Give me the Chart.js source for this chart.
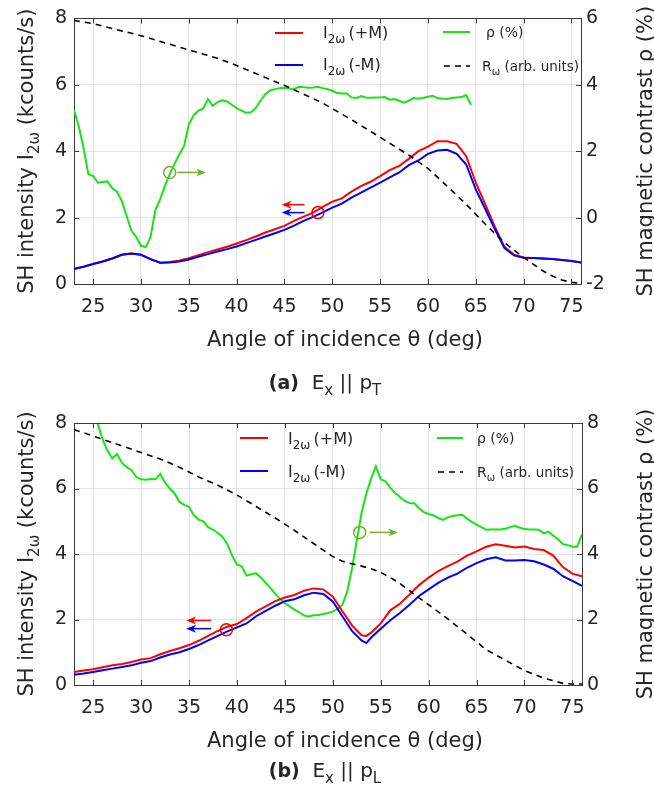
<!DOCTYPE html>
<html>
<head>
<meta charset="utf-8">
<script src="https://cdn.jsdelivr.net/npm/chart.js@4.4.1/dist/chart.umd.min.js"></script>
<style>
  body { margin: 0; background: #fff; width: 654px; height: 802px; overflow: hidden; }
  canvas { display: block; }
</style>
</head>
<body>
<canvas id="chartA" width="654" height="400"></canvas>
<canvas id="chartB" width="654" height="402"></canvas>
<script>
// ---- ticks ----
const xTicks = [25, 30, 35, 40, 45, 50, 55, 60, 65, 70, 75];
const leftTicks = [0, 2, 4, 6, 8];
const rightTicksA = [-2, 0, 2, 4, 6];
const rightTicksB = [0, 2, 4, 6, 8];

// ---- panel (a): Ex || pT ----
const angleA = [23,24,25,26,27,28,29,30,31,32,33,34,35,36,37,38,39,40,41,42,43,44,45,46,47,48,49,50,51,52,53,54,55,56,57,58,59,60,61,62,63,64,65,66,67,68,69,70,71,72,73,74,75,76];
const plusA  = [0.45,0.52,0.60,0.68,0.77,0.88,0.92,0.88,0.75,0.64,0.66,0.70,0.78,0.87,0.96,1.04,1.12,1.22,1.32,1.43,1.55,1.65,1.75,1.90,2.03,2.15,2.32,2.48,2.58,2.78,2.95,3.08,3.25,3.43,3.56,3.77,4.00,4.14,4.30,4.30,4.22,3.85,3.05,2.40,1.72,1.12,0.88,0.80,0.78,0.77,0.75,0.72,0.69,0.65];
const minusA = [0.45,0.52,0.60,0.68,0.77,0.88,0.92,0.88,0.75,0.64,0.65,0.68,0.74,0.82,0.90,0.98,1.05,1.13,1.23,1.33,1.43,1.53,1.63,1.76,1.90,2.02,2.16,2.30,2.42,2.60,2.75,2.90,3.05,3.21,3.36,3.58,3.72,3.92,4.02,4.04,3.92,3.60,2.85,2.25,1.65,1.08,0.86,0.79,0.78,0.77,0.75,0.72,0.69,0.65];
const rhoAngleA = [23,23.5,24,24.5,25,25.5,26,26.5,27,27.5,28,28.5,29,29.5,30,30.5,31,31.5,32,32.5,33,33.5,34,34.5,35,35.5,36,36.5,37,37.5,38,38.5,39,39.5,40,40.5,41,41.5,42,42.5,43,43.5,44,44.5,45,45.5,46,46.5,47,47.5,48,48.5,49,49.5,50,50.5,51,51.5,52,52.5,53,53.5,54,54.5,55,55.5,56,56.5,57,57.5,58,58.5,59,59.5,60,60.5,61,61.5,62,62.5,63,63.5,64,64.5];
const rhoA = [3.24,2.75,2.10,1.31,1.25,1.05,1.07,1.09,0.88,0.78,0.50,0.05,-0.40,-0.58,-0.85,-0.89,-0.58,0.22,0.55,0.95,1.30,1.61,1.90,2.15,2.80,3.08,3.22,3.28,3.57,3.37,3.48,3.53,3.50,3.40,3.30,3.22,3.16,3.17,3.30,3.52,3.72,3.83,3.87,3.90,3.91,3.89,3.87,3.94,3.93,3.91,3.92,3.94,3.90,3.87,3.82,3.75,3.74,3.74,3.62,3.60,3.66,3.62,3.61,3.62,3.62,3.63,3.55,3.57,3.52,3.46,3.52,3.60,3.58,3.60,3.64,3.67,3.60,3.58,3.57,3.60,3.62,3.63,3.69,3.39];
const reflAngleA = [23,25,30,35,38,40,42,44,45,47,49,52,55,58,60,62,64,65,66,67,68,69,70,71,72,73,74,75,76];
const reflA = [7.94,7.84,7.48,7.05,6.80,6.58,6.34,6.10,5.98,5.72,5.45,4.95,4.42,3.88,3.48,2.95,2.40,2.10,1.80,1.52,1.25,1.02,0.80,0.60,0.40,0.24,0.12,0.05,0.02];
// markers: [angle, value] and arrows: [from angle, to angle, value]
const ringIA = [48.5, 2.15];
const ringRhoA = [33.0, 1.36];
const arrowPlusA = [47.1, 44.7, 2.39];
const arrowMinusA = [47.1, 44.7, 2.15];
const arrowRhoA = [33.8, 36.8, 1.36];

// ---- panel (b): Ex || pL ----
const angleB = [23,24,25,26,27,28,29,30,31,32,33,34,35,36,37,38,39,40,41,42,43,44,45,46,47,48,49,50,51,52,53,53.5,54,55,56,57,58,59,60,61,62,63,64,65,66,67,68,69,70,71,72,73,74,75,76];
const plusB  = [0.40,0.44,0.48,0.54,0.60,0.64,0.70,0.78,0.82,0.94,1.04,1.12,1.22,1.35,1.50,1.65,1.78,1.86,2.04,2.24,2.40,2.56,2.67,2.75,2.88,2.95,2.92,2.70,2.25,1.82,1.52,1.50,1.60,1.88,2.28,2.48,2.76,3.05,3.28,3.48,3.63,3.77,3.95,4.08,4.22,4.30,4.25,4.20,4.23,4.15,4.12,3.95,3.60,3.40,3.32];
const minusB = [0.31,0.35,0.40,0.45,0.50,0.55,0.60,0.68,0.73,0.84,0.93,1.00,1.10,1.22,1.36,1.50,1.64,1.76,1.88,2.10,2.26,2.42,2.56,2.62,2.74,2.82,2.78,2.55,2.10,1.65,1.36,1.28,1.45,1.72,1.98,2.20,2.45,2.72,2.92,3.12,3.28,3.40,3.58,3.72,3.84,3.90,3.80,3.80,3.82,3.78,3.68,3.55,3.32,3.18,3.03];
const rhoAngleB = [23,23.5,24,24.5,25,25.5,26,26.5,27,27.5,28,28.5,29,29.5,30,30.5,31,31.5,32,32.5,33,33.5,34,34.5,35,35.5,36,36.5,37,37.5,38,38.5,39,39.5,40,40.5,41,41.5,42,42.5,43,43.5,44,44.5,45,45.5,46,46.5,47,47.5,48,48.5,49,49.5,50,50.5,51,51.5,52,52.5,53,53.5,54,54.5,55,55.5,56,56.5,57,57.5,58,58.5,59,59.5,60,60.5,61,61.5,62,62.5,63,63.5,64,64.5,65,65.5,66,66.5,67,67.5,68,68.5,69,69.5,70,70.5,71,71.5,72,72.5,73,73.5,74,74.5,75,75.5,76];
const rhoB = [10.5,10.0,9.4,8.9,8.4,7.95,7.49,7.15,6.92,7.05,6.78,6.65,6.56,6.35,6.28,6.27,6.29,6.28,6.45,6.18,6.00,5.85,5.59,5.50,5.44,5.18,5.05,5.00,4.82,4.74,4.64,4.52,4.30,3.95,3.68,3.62,3.34,3.38,3.41,3.28,3.12,2.96,2.78,2.63,2.50,2.40,2.30,2.22,2.12,2.09,2.13,2.14,2.17,2.20,2.24,2.32,2.45,2.85,3.55,4.40,5.25,5.85,6.30,6.68,6.28,6.22,6.02,5.86,5.74,5.62,5.56,5.55,5.40,5.28,5.22,5.18,5.10,5.04,5.12,5.16,5.18,5.20,5.08,4.98,4.90,4.82,4.74,4.75,4.75,4.75,4.77,4.82,4.86,4.80,4.76,4.75,4.75,4.74,4.63,4.68,4.56,4.45,4.30,4.27,4.22,4.22,4.60];
const reflAngleB = [23,25,28,30,32,34,36,38,40,42,44,46,48,50,51,52,53,54,55,56,57,58,59,60,62,64,66,68,70,72,74,75,76];
const reflB = [7.80,7.60,7.30,7.10,6.90,6.65,6.35,6.10,5.80,5.45,5.10,4.72,4.32,3.92,3.78,3.70,3.63,3.55,3.44,3.28,3.10,2.88,2.66,2.45,2.02,1.55,1.08,0.76,0.44,0.21,0.05,0.03,0.03];
const ringIB = [38.9, 1.69];
const ringRhoB = [52.8, 4.66];
const arrowPlusB = [37.3, 34.7, 1.97];
const arrowMinusB = [37.3, 34.7, 1.72];
const arrowRhoB = [53.85, 56.8, 4.66];

// ---- style ----
const RED = '#ff0000', BLUE = '#0000ff', GREEN = '#14e614', OLIVE = '#77ac30';
const GRID = '#e3e3e3', AXIS = '#3a3a3a', TEXT = '#262626';
const FAMILY = '"DejaVu Sans", sans-serif';

Chart.defaults.font.family = FAMILY;
Chart.defaults.color = TEXT;

function pts(xs, ys) {
  return xs.map((x, i) => ({ x: x, y: ys[i] }));
}

function series(data, color, axis, dash, width) {
  return {
    data: data, borderColor: color, backgroundColor: color,
    borderWidth: width || 2, borderDash: dash || [],
    pointRadius: 0, tension: 0, fill: false, yAxisID: axis
  };
}

function fnt(p) {
  return (p.b ? 'bold ' : '') + p.s + 'px ' + FAMILY;
}

function partsWidth(ctx, parts) {
  let w = 0;
  parts.forEach(p => { ctx.font = fnt(p); w += ctx.measureText(p.t).width; });
  return w;
}

function drawParts(ctx, parts, x, y) {
  parts.forEach(p => {
    ctx.font = fnt(p);
    ctx.fillText(p.t, x, y + (p.dy || 0));
    x += ctx.measureText(p.t).width;
  });
}

function drawArrow(ctx, x0, y0, x1, y1, color) {
  const dx = x1 - x0, dy = y1 - y0, len = Math.hypot(dx, dy);
  const ux = dx / len, uy = dy / len, hl = 10, hw = 4;
  ctx.strokeStyle = color;
  ctx.fillStyle = color;
  ctx.lineWidth = 1.5;
  ctx.beginPath();
  ctx.moveTo(x0, y0);
  ctx.lineTo(x1 - ux * 6, y1 - uy * 6);
  ctx.stroke();
  ctx.beginPath();
  ctx.moveTo(x1, y1);
  ctx.lineTo(x1 - ux * hl - uy * hw, y1 - uy * hl + ux * hw);
  ctx.lineTo(x1 - ux * hl * 0.7, y1 - uy * hl * 0.7);
  ctx.lineTo(x1 - ux * hl + uy * hw, y1 - uy * hl - ux * hw);
  ctx.closePath();
  ctx.fill();
}

// titles, legend, box, inward ticks, markers
const decor = {
  id: 'decor',
  afterDatasetsDraw(chart, args, o) {
    const ctx = chart.ctx, xs = chart.scales.x;
    ctx.save();
    o.rings.forEach(r => {
      const ys = chart.scales[r.axis];
      ctx.beginPath();
      ctx.arc(xs.getPixelForValue(r.at[0]), ys.getPixelForValue(r.at[1]), 6, 0, 2 * Math.PI);
      ctx.strokeStyle = r.color;
      ctx.lineWidth = 1.5;
      ctx.stroke();
    });
    o.arrows.forEach(a => {
      const ys = chart.scales[a.axis];
      const y = ys.getPixelForValue(a.v[2]);
      drawArrow(ctx, xs.getPixelForValue(a.v[0]), y, xs.getPixelForValue(a.v[1]), y, a.color);
    });
    ctx.restore();
  },
  afterDraw(chart, args, o) {
    const ctx = chart.ctx, a = chart.chartArea;
    const xs = chart.scales.x, yl = chart.scales.y;
    ctx.save();
    // box top + inward ticks
    ctx.strokeStyle = AXIS;
    ctx.lineWidth = 1;
    ctx.beginPath();
    const top = Math.round(a.top) + 0.5;
    ctx.moveTo(a.left, top);
    ctx.lineTo(a.right, top);
    xTicks.forEach(v => {
      const px = Math.round(xs.getPixelForValue(v)) + 0.5;
      ctx.moveTo(px, a.bottom); ctx.lineTo(px, a.bottom - 5);
      ctx.moveTo(px, a.top); ctx.lineTo(px, a.top + 5);
    });
    leftTicks.forEach(v => {
      const py = Math.round(yl.getPixelForValue(v)) + 0.5;
      ctx.moveTo(a.left, py); ctx.lineTo(a.left + 5, py);
      ctx.moveTo(a.right, py); ctx.lineTo(a.right - 5, py);
    });
    ctx.stroke();

    // legend
    o.legend.forEach(l => {
      ctx.beginPath();
      ctx.setLineDash(l.dash || []);
      ctx.strokeStyle = l.color;
      ctx.lineWidth = l.w || 2;
      ctx.moveTo(l.x0, l.y);
      ctx.lineTo(l.x1, l.y);
      ctx.stroke();
      ctx.setLineDash([]);
      ctx.fillStyle = TEXT;
      ctx.textBaseline = 'alphabetic';
      ctx.textAlign = 'left';
      drawParts(ctx, l.parts, l.tx, l.y + l.dy);
    });

    // axis titles
    ctx.fillStyle = TEXT;
    ctx.textAlign = 'left';
    ctx.textBaseline = 'alphabetic';
    const mid = (a.top + a.bottom) / 2;
    [[o.leftTitle, o.leftX], [o.rightTitle, o.rightX]].forEach(t => {
      const w = partsWidth(ctx, t[0]);
      ctx.save();
      ctx.translate(t[1], mid);
      ctx.rotate(-Math.PI / 2);
      drawParts(ctx, t[0], -w / 2, 0);
      ctx.restore();
    });
    const wx = partsWidth(ctx, o.xTitle);
    drawParts(ctx, o.xTitle, o.xTitleX - wx / 2, o.xTitleY);
    const wc = partsWidth(ctx, o.caption);
    drawParts(ctx, o.caption, o.captionX - wc / 2, o.captionY);
    ctx.restore();
  }
};

const leftTitle = [{ t: 'SH intensity I', s: 21 }, { t: '2ω', s: 15, dy: 6 }, { t: ' (kcounts/s)', s: 21 }];
const rightTitle = [{ t: 'SH magnetic contrast ρ (%)', s: 21 }];
const xTitle = [{ t: 'Angle of incidence θ (deg)', s: 21 }];
const plusLabel = [{ t: 'I', s: 16 }, { t: '2ω', s: 12, dy: 5 }, { t: '\u2009(+M)', s: 16 }];
const minusLabel = [{ t: 'I', s: 16 }, { t: '2ω', s: 12, dy: 5 }, { t: '\u2009(-M)', s: 16 }];
const rhoLabel = [{ t: 'ρ (%)', s: 14 }];
const reflLabel = [{ t: 'R', s: 14 }, { t: 'ω', s: 10, dy: 4 }, { t: ' (arb. units)', s: 13.5 }];

function makeChart(id, d) {
  const tickFont = { size: 19, family: FAMILY };
  new Chart(document.getElementById(id), {
    type: 'line',
    data: {
      datasets: [
        series(pts(d.reflAngle, d.refl), '#000000', 'y', [6, 5], 1.6),
        series(pts(d.angle, d.minus), BLUE, 'y'),
        series(pts(d.angle, d.plus), RED, 'y'),
        series(pts(d.rhoAngle, d.rho), GREEN, 'y1')
      ]
    },
    options: {
      responsive: false,
      animation: false,
      events: [],
      layout: { padding: { top: d.top, left: 0, right: 0, bottom: 0 } },
      plugins: {
        legend: { display: false },
        tooltip: { enabled: false },
        decor: {
          rings: [
            { at: d.ringI, axis: 'y', color: RED },
            { at: d.ringRho, axis: 'y1', color: OLIVE }
          ],
          arrows: [
            { v: d.arrowPlus, axis: 'y', color: RED },
            { v: d.arrowMinus, axis: 'y', color: BLUE },
            { v: d.arrowRho, axis: 'y1', color: OLIVE }
          ],
          legend: d.legend,
          leftTitle: leftTitle, leftX: 33,
          rightTitle: rightTitle, rightX: 652,
          xTitle: xTitle, xTitleX: 345, xTitleY: d.xTitleY,
          caption: d.caption, captionX: 325, captionY: d.captionY
        }
      },
      scales: {
        x: {
          type: 'linear', min: 23, max: 76,
          afterBuildTicks: s => { s.ticks = xTicks.map(v => ({ value: v })); },
          afterFit: s => { s.height = d.xHeight; },
          grid: { color: GRID, drawTicks: false },
          border: { color: AXIS },
          ticks: { font: tickFont, color: TEXT, padding: 12, maxRotation: 0 }
        },
        y: {
          type: 'linear', position: 'left', min: 0, max: 8,
          afterBuildTicks: s => { s.ticks = leftTicks.map(v => ({ value: v })); },
          afterFit: s => { s.width = 74; },
          grid: { color: GRID, drawTicks: false },
          border: { color: AXIS },
          ticks: { font: tickFont, color: TEXT, padding: 7 }
        },
        y1: {
          type: 'linear', position: 'right', min: d.rightTicks[0], max: d.rightTicks[d.rightTicks.length - 1],
          afterBuildTicks: s => { s.ticks = d.rightTicks.map(v => ({ value: v })); },
          afterFit: s => { s.width = d.rightWidth; },
          grid: { drawOnChartArea: false, drawTicks: false },
          border: { color: AXIS },
          ticks: { font: tickFont, color: TEXT, padding: 5 }
        }
      }
    },
    plugins: [decor]
  });
}

makeChart('chartA', {
  angle: angleA, plus: plusA, minus: minusA,
  rhoAngle: rhoAngleA, rho: rhoA, reflAngle: reflAngleA, refl: reflA,
  rightTicks: rightTicksA,
  ringI: ringIA, ringRho: ringRhoA,
  arrowPlus: arrowPlusA, arrowMinus: arrowMinusA, arrowRho: arrowRhoA,
  top: 16, xHeight: 116, rightWidth: 73,
  xTitleY: 346, captionY: 389,
  caption: [{ t: '(a)', s: 19, b: true }, { t: '  E', s: 20 }, { t: 'x', s: 15, dy: 6 }, { t: ' || p', s: 20 }, { t: 'T', s: 15, dy: 6 }],
  legend: [
    { x0: 275, x1: 303, y: 33, color: RED, tx: 323, dy: 5, parts: plusLabel },
    { x0: 275, x1: 303, y: 65, color: BLUE, tx: 323, dy: 5, parts: minusLabel },
    { x0: 443, x1: 470, y: 32, color: GREEN, tx: 486, dy: 5, parts: rhoLabel },
    { x0: 444, x1: 470, y: 66, color: '#000000', dash: [6, 5], w: 1.6, tx: 482, dy: 5, parts: reflLabel }
  ]
});

makeChart('chartB', {
  angle: angleB, plus: plusB, minus: minusB,
  rhoAngle: rhoAngleB, rho: rhoB, reflAngle: reflAngleB, refl: reflB,
  rightTicks: rightTicksB,
  ringI: ringIB, ringRho: ringRhoB,
  arrowPlus: arrowPlusB, arrowMinus: arrowMinusB, arrowRho: arrowRhoB,
  top: 23, xHeight: 117, rightWidth: 72,
  xTitleY: 347, captionY: 377,
  caption: [{ t: '(b)', s: 19, b: true }, { t: '  E', s: 20 }, { t: 'x', s: 15, dy: 6 }, { t: ' || p', s: 20 }, { t: 'L', s: 15, dy: 6 }],
  legend: [
    { x0: 240, x1: 268, y: 38, color: RED, tx: 288, dy: 6, parts: plusLabel },
    { x0: 240, x1: 268, y: 71, color: BLUE, tx: 288, dy: 6, parts: minusLabel },
    { x0: 437, x1: 463, y: 38, color: GREEN, tx: 477, dy: 5, parts: rhoLabel },
    { x0: 438, x1: 463, y: 72, color: '#000000', dash: [6, 5], w: 1.6, tx: 477, dy: 5, parts: reflLabel }
  ]
});
</script>
</body>
</html>
